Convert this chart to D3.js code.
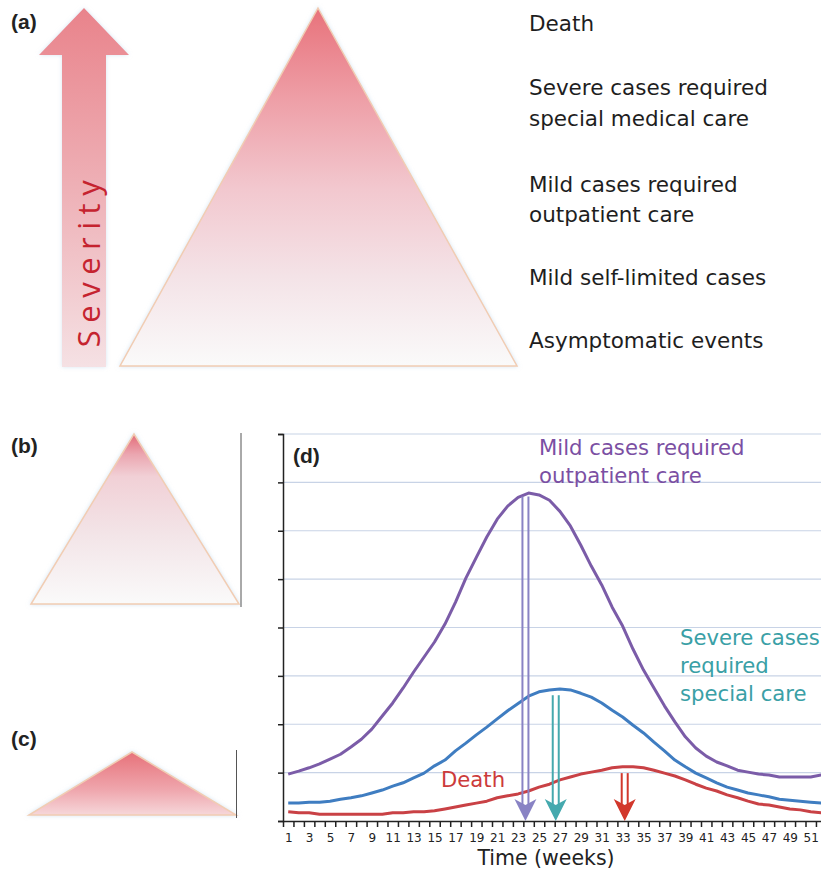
<!DOCTYPE html>
<html>
<head>
<meta charset="utf-8">
<script src="https://cdn.jsdelivr.net/npm/d3@7"></script>
<style>
  html, body { margin: 0; padding: 0; background: #ffffff; }
  svg { display: block; }
</style>
</head>
<body>
<svg id="chart" width="821" height="869"></svg>
<script>
// ---------------- DATA ----------------
const weeks = d3.range(1, 53);
const weekLabels = [1,3,5,7,9,11,13,15,17,19,21,23,25,27,29,31,33,35,37,39,41,43,45,47,49,51];
const mildOutpatient = [0.97,1.03,1.10,1.18,1.28,1.38,1.53,1.69,1.90,2.17,2.44,2.75,3.08,3.39,3.70,4.07,4.52,5.02,5.45,5.87,6.24,6.51,6.69,6.78,6.74,6.63,6.40,6.10,5.70,5.27,4.88,4.42,4.03,3.55,3.12,2.75,2.38,2.05,1.74,1.51,1.34,1.22,1.14,1.05,1.01,0.97,0.95,0.91,0.91,0.91,0.91,0.95];
const severeSpecial = [0.37,0.37,0.39,0.39,0.41,0.45,0.48,0.52,0.58,0.64,0.72,0.79,0.89,0.99,1.14,1.26,1.45,1.61,1.78,1.94,2.11,2.28,2.43,2.58,2.67,2.71,2.73,2.71,2.64,2.56,2.44,2.29,2.15,1.98,1.82,1.63,1.45,1.26,1.12,0.99,0.89,0.79,0.70,0.64,0.58,0.54,0.50,0.45,0.43,0.41,0.39,0.37];
const deaths = [0.19,0.17,0.17,0.14,0.14,0.14,0.14,0.14,0.14,0.14,0.17,0.17,0.19,0.19,0.21,0.25,0.29,0.33,0.37,0.41,0.48,0.52,0.56,0.62,0.70,0.76,0.85,0.91,0.97,1.01,1.05,1.10,1.12,1.12,1.10,1.05,0.99,0.93,0.85,0.76,0.68,0.62,0.54,0.48,0.41,0.35,0.33,0.29,0.25,0.23,0.19,0.17];
const peakWeeks = [23.7, 26.6, 33.2];
const peakTops = [6.71, 2.60, 0.99];
const severityLevels = ["Death", "Severe cases required", "special medical care", "Mild cases required", "outpatient care", "Mild self-limited cases", "Asymptomatic events"];

// ---------------- SVG ----------------
const svg = d3.select("#chart");
const defs = svg.append("defs");

function grad(id, stops) {
  const g = defs.append("linearGradient").attr("id", id)
    .attr("x1", 0).attr("y1", 0).attr("x2", 0).attr("y2", 1);
  stops.forEach(s => g.append("stop").attr("offset", s[0]).attr("stop-color", s[1]));
}
grad("gArrow", [[0, "#e9838b"], [0.5, "#eeb0b6"], [1, "#f5e1e4"]]);
grad("gA", [[0, "#e8727b"], [0.25, "#ee9ea6"], [0.5, "#f2c7ce"], [0.75, "#f4e3e7"], [1, "#fafafa"]]);
grad("gB", [[0, "#e36b78"], [0.12, "#eba6b0"], [0.25, "#f1d0d6"], [0.6, "#f3e5e8"], [1, "#fafafa"]]);
grad("gC", [[0, "#e7727a"], [0.6, "#efa6ad"], [1, "#f6d7da"]]);

const glow = defs.append("filter").attr("id", "glow").attr("x", "-10%").attr("y", "-10%").attr("width", "120%").attr("height", "120%");
glow.append("feDropShadow").attr("dx", 0).attr("dy", 0).attr("stdDeviation", 2).attr("flood-color", "#bcd3e8").attr("flood-opacity", 0.6);

const labelFont = "'DejaVu Sans', Verdana, sans-serif";
const boldFont = "'Liberation Sans', Arial, sans-serif";

// ---------------- PANEL (a) ----------------
svg.append("text").attr("x", 11).attr("y", 29).text("(a)")
  .attr("font-family", boldFont).attr("font-weight", "bold").attr("font-size", 21).attr("fill", "#222");

// Severity arrow
svg.append("path")
  .attr("d", "M62,367 L62,55 L39,55 L84,8 L129,55 L106,55 L106,367 Z")
  .attr("fill", "url(#gArrow)").attr("filter", "url(#glow)");
svg.append("text")
  .attr("transform", "translate(100,260) rotate(-90)")
  .attr("text-anchor", "middle")
  .attr("font-family", "'Open Sans', 'Liberation Sans', sans-serif")
  .attr("font-weight", 400)
  .attr("font-size", 31)
  .attr("letter-spacing", 7.5)
  .attr("fill", "#c5232f")
  .text("Severity");

// Main triangle
svg.append("path").attr("d", "M318,8 L517,366 L120,366 Z")
  .attr("fill", "url(#gA)").attr("stroke", "#f1cdb3").attr("stroke-width", 1.5).attr("filter", "url(#glow)");

const levelY = [31, 95, 126, 192, 222, 285, 348];
svg.selectAll("text.level").data(severityLevels).join("text")
  .attr("class", "level")
  .attr("x", 529).attr("y", (d, i) => levelY[i])
  .attr("font-family", labelFont).attr("font-size", 21.5).attr("fill", "#1e1e1e")
  .text(d => d);

// ---------------- PANEL (b) ----------------
svg.append("text").attr("x", 11).attr("y", 453).text("(b)")
  .attr("font-family", boldFont).attr("font-weight", "bold").attr("font-size", 21).attr("fill", "#222");
svg.append("path").attr("d", "M134,434 L239,604 L31,604 Z")
  .attr("fill", "url(#gB)").attr("stroke", "#f1cdb3").attr("stroke-width", 1.5).attr("filter", "url(#glow)");
svg.append("line").attr("x1", 241).attr("x2", 241).attr("y1", 433).attr("y2", 607)
  .attr("stroke", "#555").attr("stroke-width", 1);

// ---------------- PANEL (c) ----------------
svg.append("text").attr("x", 11).attr("y", 746).text("(c)")
  .attr("font-family", boldFont).attr("font-weight", "bold").attr("font-size", 21).attr("fill", "#222");
svg.append("path").attr("d", "M132,752 L236,815 L29,815 Z")
  .attr("fill", "url(#gC)").attr("stroke", "#f1cdb3").attr("stroke-width", 1.5).attr("filter", "url(#glow)");
svg.append("line").attr("x1", 236.5).attr("x2", 236.5).attr("y1", 750).attr("y2", 818)
  .attr("stroke", "#555").attr("stroke-width", 1);

// ---------------- PANEL (d) ----------------
const bw = 10.45;
const x0 = 283;
const x = d3.scaleLinear().domain([0.5, 52.5]).range([x0, x0 + 52 * bw]);
const y = d3.scaleLinear().domain([0, 8]).range([821, 434]);

// gridlines
svg.append("g").selectAll("line").data(d3.range(1, 9)).join("line")
  .attr("x1", x0).attr("x2", 821)
  .attr("y1", d => y(d)).attr("y2", d => y(d))
  .attr("stroke", "#c8d3e6").attr("stroke-width", 1.2);

// y axis (no labels)
const yAxis = svg.append("g").attr("transform", `translate(${x0},0)`)
  .call(d3.axisLeft(y).tickValues(d3.range(0, 9)).tickSize(5).tickFormat(""));
yAxis.selectAll("path, line").attr("stroke", "#222").attr("stroke-width", 1.5);

// x axis: tick marks at week boundaries
const xAxis = svg.append("g").attr("transform", `translate(0,${y(0)})`)
  .call(d3.axisBottom(x).tickValues(d3.range(0.5, 53, 1)).tickSize(6).tickSizeOuter(0).tickFormat(""));
xAxis.selectAll("path, line").attr("stroke", "#222").attr("stroke-width", 1.5);
// week labels
const xLab = svg.append("g").attr("transform", `translate(0,${y(0)})`)
  .call(d3.axisBottom(x).tickValues(weekLabels).tickSize(0).tickPadding(12).tickFormat(d3.format("d")));
xLab.select(".domain").remove();
xLab.selectAll("text").attr("font-family", labelFont).attr("font-size", 12).attr("fill", "#222");

svg.append("text").attr("x", 546).attr("y", 865).attr("text-anchor", "middle")
  .attr("font-family", labelFont).attr("font-size", 20.5).attr("fill", "#222")
  .text("Time (weeks)");

svg.append("text").attr("x", 293).attr("y", 463).text("(d)")
  .attr("font-family", boldFont).attr("font-weight", "bold").attr("font-size", 21).attr("fill", "#222");

// series
const line = d3.line().x((d, i) => x(weeks[i])).y(d => y(d));
const seriesList = [
  { values: deaths, color: "#c94145" },
  { values: severeSpecial, color: "#3f7dc1" },
  { values: mildOutpatient, color: "#7b5ca8" }
];
svg.append("g").selectAll("path").data(seriesList).join("path")
  .attr("d", d => line(d.values))
  .attr("fill", "none").attr("stroke", d => d.color).attr("stroke-width", 3)
  .attr("stroke-linejoin", "round");

// peak arrows
const arrowColors = ["#8983c4", "#45a9ae", "#d2382c"];
peakWeeks.forEach((w, i) => {
  const cx = x(w), top = y(peakTops[i]), tip = y(0);
  const g = svg.append("g").attr("stroke", arrowColors[i]).attr("fill", arrowColors[i]);
  g.append("line").attr("x1", cx - 3).attr("x2", cx - 3).attr("y1", top).attr("y2", tip - 12).attr("stroke-width", 2);
  g.append("line").attr("x1", cx + 3).attr("x2", cx + 3).attr("y1", top).attr("y2", tip - 12).attr("stroke-width", 2);
  g.append("path").attr("stroke", "none")
    .attr("d", `M${cx},${tip} L${cx - 11},${tip - 22} L${cx},${tip - 16} L${cx + 11},${tip - 22} Z`);
});

// annotations
const annFont = labelFont;
svg.append("text").attr("font-family", annFont).attr("font-size", 21.2).attr("fill", "#7b4fa3")
  .selectAll("tspan").data(["Mild cases required", "outpatient care"]).join("tspan")
  .attr("x", 539).attr("y", (d, i) => 455 + i * 28).text(d => d);
svg.append("text").attr("font-family", annFont).attr("font-size", 21.2).attr("fill", "#3aa0a6")
  .selectAll("tspan").data(["Severe cases", "required", "special care"]).join("tspan")
  .attr("x", 680).attr("y", (d, i) => 645 + i * 28).text(d => d);
svg.append("text").attr("x", 441).attr("y", 787).attr("font-family", annFont).attr("font-size", 21.2)
  .attr("fill", "#cc3b3b").text("Death");
</script>
</body>
</html>
